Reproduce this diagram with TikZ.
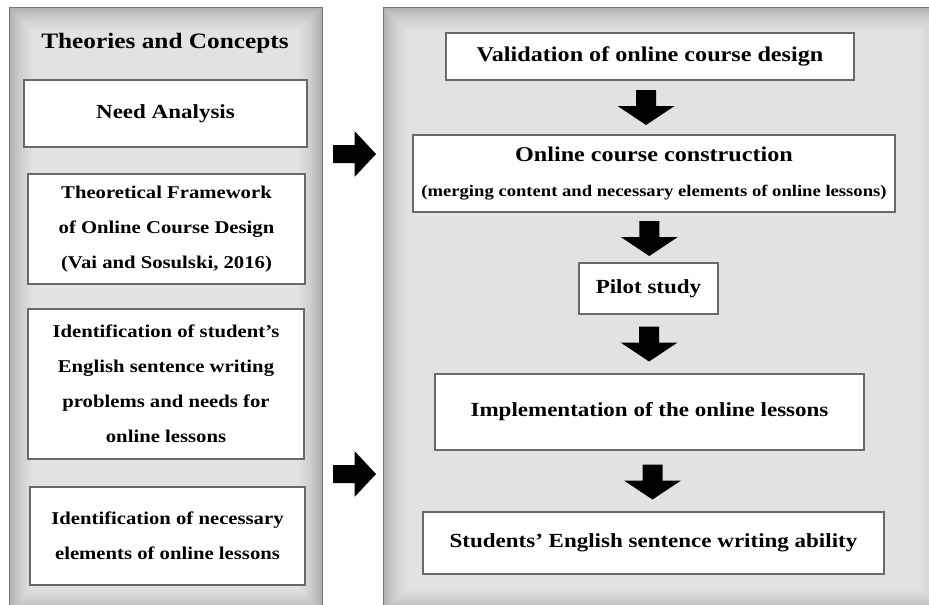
\documentclass[tikz,border=0pt]{standalone}
\usepackage{fontspec}
\setmainfont{Liberation Serif}[FakeStretch=1.15]
\usetikzlibrary{calc}
\definecolor{pedge}{RGB}{176,176,176}
\definecolor{pline}{RGB}{120,120,120}
\definecolor{bline}{RGB}{105,105,105}
\tikzset{
  box/.style={draw=bline, line width=1.6pt, fill=white, inner sep=0pt, align=center,
    font=\bfseries\fontsize{18}{35}\selectfont},
  bigbox/.style={box, font=\bfseries\fontsize{20}{26}\selectfont},
  ttl/.style={inner sep=0pt, font=\bfseries\fontsize{22}{26}\selectfont},
  downblk/.pic={\fill[black] (-10,-17.5) -- (10,-17.5) -- (10,-1.5) -- (28.5,-1.5) -- (0,17.5) -- (-28.5,-1.5) -- (-10,-1.5) -- cycle;},
  rightblk/.pic={\fill[black] (-21.5,-9) -- (0,-9) -- (0,-23) -- (21.5,0) -- (0,23) -- (0,9) -- (-21.5,9) -- cycle;}
}
\begin{document}
\begin{tikzpicture}[x=1pt,y=-1pt]
\useasboundingbox (0,0) rectangle (929,605);
\begin{scope}
\clip (0,0) rectangle (929,605);
% panels
\foreach \xa/\xb in {9/322, 383/945}{
  \fill[pedge] (\xa,7) rectangle (\xb,612);
  \foreach \i in {1,...,12}{
    \fill[white,opacity=0.09] (\xa+2*\i,7+2*\i) rectangle (\xb-2*\i,612-2*\i);
  }
  \draw[pline, line width=1pt] (\xa,7) rectangle (\xb,612);
}
\end{scope}
% left panel
\node[ttl] (title) at (165,43) {Theories and Concepts};
\node[bigbox, minimum width=283, minimum height=67] (need) at (165.5,113.5) {Need Analysis};
\node[box, minimum width=277, minimum height=110] (theo) at (166.5,229) {Theoretical Framework\\of Online Course Design\\(Vai and Sosulski, 2016)};
\node[box, minimum width=276, minimum height=150] (ident) at (166,384) {Identification of student's\\English sentence writing\\problems and needs for\\online lessons};
\node[box, minimum width=275, minimum height=98] (nec) at (167.5,536) {Identification of necessary\\elements of online lessons};
% right panel
\node[box, minimum width=408, minimum height=47, font=\bfseries\fontsize{21}{26}\selectfont] (val) at (650,56.5) {Validation of online course design};
\node[box, minimum width=482, minimum height=77] (occ) at (654,173.5) {{\fontsize{21}{38}\selectfont Online course construction}\\{\fontsize{16.2}{23}\selectfont (merging content and necessary elements of online lessons)}};
\node[bigbox, minimum width=139, minimum height=51] (pilot) at (648.5,288.5) {Pilot study};
\node[bigbox, minimum width=429, minimum height=76] (impl) at (649.5,412) {Implementation of the online lessons};
\node[bigbox, minimum width=461, minimum height=62] (stud) at (653.5,543) {Students' English sentence writing ability};
% arrows
\pic at ($(val.south)!0.5!(occ.north)+(-6,0)$) {downblk};
\pic at ($(occ.south)!0.5!(pilot.north)+(-2,1)$) {downblk};
\pic at ($(pilot.south)!0.5!(impl.north)$) {downblk};
\pic at ($(impl.south)!0.5!(stud.north)+(1,1)$) {downblk};
\coordinate (r1) at (354.5,154);
\coordinate (r2) at (354.5,474);
\pic at (r1) {rightblk};
\pic at (r2) {rightblk};
\end{tikzpicture}
\end{document}
